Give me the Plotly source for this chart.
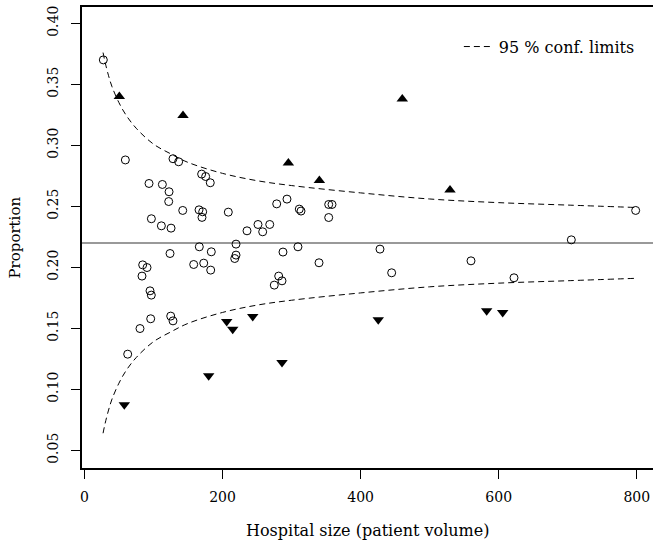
import plotly.graph_objects as go

# Hospitals inside the limits (open circles)
in_size = [27.4, 59.3, 128.3, 136.5, 169.8, 175.6, 182.3, 93.6, 112.9, 122.6, 122.1, 142.4,
           166.0, 171.3, 170.3, 97.0, 111.5, 125.5, 208.4, 235.5, 251.4, 258.2, 268.4, 278.5,
           293.4, 311.2, 313.7, 353.8, 358.6, 353.8,
           124.0, 166.4, 183.8, 219.6, 219.6, 217.7, 158.3, 172.8, 182.9, 84.4, 90.7, 83.4,
           95.0, 96.9, 96.0, 80.5, 125.0, 128.3, 62.7, 287.6, 309.3, 275.0, 281.4, 286.2, 339.8,
           798.4, 705.2, 428.1, 559.9, 445.0, 622.2]
in_prop = [0.370, 0.288, 0.289, 0.2865, 0.2764, 0.2744, 0.2693, 0.2687, 0.2679, 0.2619, 0.2539, 0.2466,
           0.2471, 0.2455, 0.2409, 0.2398, 0.2340, 0.2321, 0.2452, 0.2299, 0.2351, 0.2291, 0.2351, 0.2520,
           0.2559, 0.2477, 0.2461, 0.2515, 0.2515, 0.2408,
           0.2113, 0.2168, 0.2127, 0.2190, 0.2100, 0.2072, 0.2023, 0.2034, 0.1977, 0.2020, 0.1998, 0.1928,
           0.1807, 0.1772, 0.1578, 0.1498, 0.1600, 0.1561, 0.1288, 0.2125, 0.2168, 0.1854, 0.1928, 0.1889, 0.2037,
           0.2466, 0.2225, 0.2149, 0.2053, 0.1955, 0.1914]

# Above upper limit (filled up-triangles)
hi_size = [50.6, 142.8, 295.4, 340.3, 460.4, 529.5]
hi_prop = [0.340, 0.3244, 0.2854, 0.2712, 0.3379, 0.2633]

# Below lower limit (filled down-triangles)
lo_size = [57.8, 180.0, 206.1, 214.8, 243.8, 286.2, 425.6, 582.6, 605.8]
lo_prop = [0.0873, 0.1111, 0.1556, 0.1493, 0.1597, 0.1220, 0.1570, 0.1643, 0.1629]

# Overall proportion and 95 % limits
p_bar = 0.22
lim_size = [27, 30, 35, 40, 50, 60, 75, 100, 125, 150, 200, 250, 300, 400, 500, 600, 700, 800]
lim_upper = [0.376, 0.368, 0.357, 0.348, 0.335, 0.325, 0.314, 0.301, 0.293, 0.286, 0.277, 0.271,
             0.267, 0.261, 0.256, 0.253, 0.251, 0.249]
lim_lower = [0.064, 0.072, 0.083, 0.092, 0.105, 0.115, 0.126, 0.139, 0.147, 0.154, 0.163, 0.169,
             0.173, 0.179, 0.184, 0.187, 0.189, 0.191]

x_ticks = [0, 200, 400, 600, 800]
y_ticks = [0.05, 0.10, 0.15, 0.20, 0.25, 0.30, 0.35, 0.40]
y_ticklabels = ["0.05", "0.10", "0.15", "0.20", "0.25", "0.30", "0.35", "0.40"]

FONT = "DejaVu Serif"

fig = go.Figure()
dash_line = dict(color="black", width=1, dash="6px,4px")
fig.add_trace(go.Scatter(x=lim_size, y=lim_upper, mode="lines", line=dash_line,
                         line_shape="spline", name="95 % conf. limits", showlegend=True))
fig.add_trace(go.Scatter(x=lim_size, y=lim_lower, mode="lines", line=dash_line,
                         line_shape="spline", showlegend=False))
fig.add_trace(go.Scatter(x=in_size, y=in_prop, mode="markers", showlegend=False,
                         marker=dict(symbol="circle-open", size=8, color="black", line=dict(width=1))))
fig.add_trace(go.Scatter(x=hi_size, y=hi_prop, mode="markers", showlegend=False,
                         marker=dict(symbol="triangle-up", size=10, color="black", line=dict(width=0))))
fig.add_trace(go.Scatter(x=lo_size, y=lo_prop, mode="markers", showlegend=False,
                         marker=dict(symbol="triangle-down", size=10, color="black", line=dict(width=0))))

fig.add_shape(type="line", xref="paper", x0=0, x1=1, yref="y", y0=p_bar, y1=p_bar,
              line=dict(color="#777777", width=1.5), layer="below")

fig.add_annotation(text="Hospital size (patient volume)", xref="paper", yref="paper",
                   x=0.5, y=0, xanchor="center", yanchor="middle", yshift=-62,
                   showarrow=False, font=dict(family=FONT, size=16))
fig.add_annotation(text="Proportion", xref="paper", yref="paper",
                   x=0, y=0.5, xanchor="center", yanchor="middle", xshift=-68, textangle=-90,
                   showarrow=False, font=dict(family=FONT, size=15))

fig.update_layout(
    width=653, height=548,
    margin=dict(l=82, r=0, t=7, b=80, autoexpand=False),
    paper_bgcolor="white", plot_bgcolor="white",
    font=dict(family=FONT, size=14, color="black"),
    showlegend=True,
    legend=dict(x=0.66, y=0.914, xanchor="left", yanchor="middle",
                bgcolor="rgba(0,0,0,0)", borderwidth=0, font=dict(family=FONT, size=16)),
    xaxis=dict(range=[-3.48, 823.5], tickvals=x_ticks, ticks="outside", ticklen=9,
               tickwidth=1, tickcolor="black", showline=True, linecolor="black", linewidth=1.5,
               mirror=True, showgrid=False, zeroline=False, ticklabelstandoff=6,
               automargin=False, tickfont=dict(family=FONT, size=14)),
    yaxis=dict(range=[0.03549, 0.41336], tickvals=y_ticks, ticktext=y_ticklabels,
               tickangle=-90, ticks="outside", ticklen=9, tickwidth=1, tickcolor="black",
               showline=True, linecolor="black", linewidth=1.5, mirror=False,
               showgrid=False, zeroline=False, ticklabelstandoff=8,
               automargin=False, tickfont=dict(family=FONT, size=14)),
)

fig.write_html("out.html", config={"displayModeBar": False},
               post_script="document.body.style.margin='0';document.body.style.padding='0';")
